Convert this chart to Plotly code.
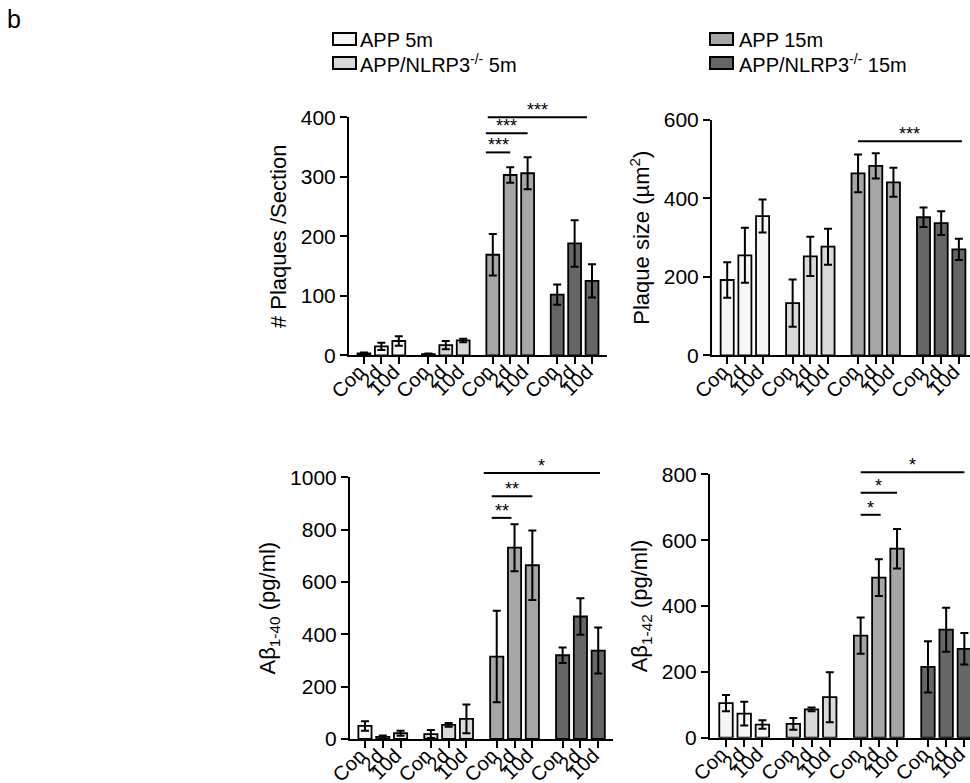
import plotly.graph_objects as go

# ---------------- data ----------------
categories = ["Con", "2d", "10d"]
series_names = ["APP 5m", "APP/NLRP3<sup>-/-</sup> 5m", "APP 15m", "APP/NLRP3<sup>-/-</sup> 15m"]
series_colors = ["#f6f6f6", "#d9d9d9", "#a6a6a6", "#666666"]

# values ordered: APP 5m (Con,2d,10d), NLRP3 5m, APP 15m, NLRP3 15m
plaques_mean = [3, 15, 24, 2, 17, 25, 169, 303, 306, 102, 188, 125]
plaques_err = [1.5, 6, 8, 1, 7, 3, 35, 13, 27, 17, 39, 28]

size_mean = [192, 255, 355, 133, 252, 277, 464, 483, 441, 352, 337, 270]
size_err = [45, 70, 42, 60, 50, 46, 48, 32, 37, 25, 30, 27]

ab40_mean = [50, 8, 22, 19, 54, 77, 315, 731, 664, 320, 468, 338]
ab40_err = [18, 5, 10, 15, 7, 55, 175, 90, 133, 30, 70, 88]

ab42_mean = [105, 73, 40, 42, 86, 123, 310, 486, 574, 215, 328, 270]
ab42_err = [25, 36, 13, 18, 6, 76, 55, 56, 60, 78, 67, 48]

# significance comparisons (bar indices into the 12 bars, height, label)
plaques_sig_from = [6, 6, 6]
plaques_sig_to = [11, 8, 7]
plaques_sig_y = [400, 373, 341]
plaques_sig_label = ["***", "***", "***"]

size_sig_from = [6]
size_sig_to = [11]
size_sig_y = [546]
size_sig_label = ["***"]

ab40_sig_from = [6, 6, 6]
ab40_sig_to = [11, 8, 7]
ab40_sig_y = [1016, 928, 845]
ab40_sig_label = ["*", "**", "**"]

ab42_sig_from = [6, 6, 6]
ab42_sig_to = [11, 8, 7]
ab42_sig_y = [806, 744, 677]
ab42_sig_label = ["*", "*", "*"]

y_titles = ["# Plaques /Section", "Plaque size (µm<sup>2</sup>)",
            "Aβ<sub>1-40</sub> (pg/ml)", "Aβ<sub>1-42</sub> (pg/ml)"]
y_tops = [400, 600, 1000, 800]
y_steps = [100, 200, 200, 200]

# ---------------- layout config ----------------
W, H = 970, 783
GROUP_STEP = 3.7
BAR_W = 0.74
FONT = "Arial, 'Liberation Sans', Helvetica, sans-serif"

# panel pixel boxes: (x_left, x_right), (y_top_px, y_bottom_px), x-range
panels = [
    dict(px=(349, 607), py=(117.3, 355.3), xr=(-0.86, 13.96)),
    dict(px=(712, 970), py=(120.0, 355.3), xr=(-0.86, 13.73)),
    dict(px=(350, 613), py=(477.3, 739.0), xr=(-0.84, 13.93)),
    dict(px=(710, 970), py=(474.3, 737.7), xr=(-0.88, 13.41)),
]
# line end offsets (in bar units) per comparison
sig_offsets = [
    [(-0.29, -0.29), (-0.4, 0.0), (-0.4, 0.0)],
    [(0.0, 0.17)],
    [(-0.73, 0.1), (-0.28, 0.0), (-0.28, -0.17)],
    [(0.0, 0.0), (0.0, 0.0), (0.0, 0.1)],
]
# legend placement (pixels): swatch left, text left, row centres
legend_pos = [
    dict(sx=333, tx=359, cy=39),
    dict(sx=333, tx=359, cy=63),
    dict(sx=710, tx=738, cy=39),
    dict(sx=710, tx=738, cy=63),
]
SW_W, SW_H = 23, 12

means = [plaques_mean, size_mean, ab40_mean, ab42_mean]
errs = [plaques_err, size_err, ab40_err, ab42_err]
sigs = [
    (plaques_sig_from, plaques_sig_to, plaques_sig_y, plaques_sig_label),
    (size_sig_from, size_sig_to, size_sig_y, size_sig_label),
    (ab40_sig_from, ab40_sig_to, ab40_sig_y, ab40_sig_label),
    (ab42_sig_from, ab42_sig_to, ab42_sig_y, ab42_sig_label),
]

positions = [g * GROUP_STEP + i for g in range(4) for i in range(3)]
ticktext = categories * 4

fig = go.Figure()
layout = dict(
    template="none",
    width=W, height=H, autosize=False,
    margin=dict(l=0, r=0, t=0, b=0, pad=0, autoexpand=False),
    paper_bgcolor="white", plot_bgcolor="white",
    barmode="overlay", showlegend=False,
    font=dict(family=FONT, color="black", size=20),
    shapes=[], annotations=[],
)

for p, panel in enumerate(panels):
    n = "" if p == 0 else str(p + 1)
    xa, ya = "x" + n, "y" + n
    for s in range(4):
        idx = slice(s * 3, s * 3 + 3)
        fig.add_trace(go.Bar(
            x=positions[idx], y=means[p][idx],
            width=BAR_W,
            marker=dict(color=series_colors[s], line=dict(color="black", width=1.8)),
            error_y=dict(type="data", array=errs[p][idx], visible=True,
                         color="black", thickness=2, width=4),
            name=series_names[s],
            xaxis=xa, yaxis=ya,
        ))
    x0px, x1px = panel["px"]
    ytop_px, ybot_px = panel["py"]
    layout["xaxis" + n] = dict(
        domain=[x0px / W, x1px / W], range=list(panel["xr"]), anchor=ya,
        automargin=False,
        showline=True, linecolor="black", linewidth=2,
        ticks="outside", ticklen=7, tickwidth=2, tickcolor="black",
        tickvals=positions, ticktext=ticktext, tickangle=-45,
        ticklabelstandoff=-12, ticklabelshift=-5,
        tickfont=dict(size=20), showgrid=False, zeroline=False,
    )
    layout["yaxis" + n] = dict(
        domain=[1 - ybot_px / H, 1 - ytop_px / H], range=[0, y_tops[p]], anchor=xa,
        automargin=False,
        showline=True, linecolor="black", linewidth=2,
        ticks="outside", ticklen=7, tickwidth=2, tickcolor="black",
        tickvals=list(range(0, y_tops[p] + 1, y_steps[p])),
        tickfont=dict(size=21), showgrid=False, zeroline=False,
        title=dict(text=y_titles[p], font=dict(size=22), standoff=8),
    )
    # significance bars
    r0, r1 = panel["xr"]
    sf, st, sy, sl = sigs[p]
    for k in range(len(sf)):
        dx0, dx1 = sig_offsets[p][k]
        xa0 = (positions[sf[k]] + dx0 - r0) / (r1 - r0)
        xa1 = (positions[st[k]] + dx1 - r0) / (r1 - r0)
        yy = sy[k] / y_tops[p]
        layout["shapes"].append(dict(
            type="line", xref=xa + " domain", yref=ya + " domain",
            x0=xa0, x1=xa1, y0=yy, y1=yy,
            line=dict(color="black", width=2),
        ))
        layout["annotations"].append(dict(
            text=sl[k], xref=xa + " domain", yref=ya + " domain",
            x=(xa0 + xa1) / 2, y=yy, xanchor="center", yanchor="bottom",
            yshift=-5, showarrow=False, font=dict(size=18),
        ))

# legend (two columns, drawn as swatches + labels)
for s in range(4):
    lp = legend_pos[s]
    layout["shapes"].append(dict(
        type="rect", xref="paper", yref="paper",
        x0=lp["sx"] / W, x1=(lp["sx"] + SW_W) / W,
        y0=1 - (lp["cy"] + SW_H / 2) / H, y1=1 - (lp["cy"] - SW_H / 2) / H,
        fillcolor=series_colors[s], line=dict(color="black", width=2),
    ))
    layout["annotations"].append(dict(
        text=series_names[s], xref="paper", yref="paper",
        x=lp["tx"] / W, y=1 - (lp["cy"] + 1) / H, xanchor="left", yanchor="middle",
        showarrow=False, font=dict(size=20), borderpad=0,
    ))

layout["annotations"].append(dict(
    text="b", xref="paper", yref="paper", x=6 / W, y=1 - 4 / H,
    xanchor="left", yanchor="top", showarrow=False, font=dict(size=25), borderpad=0,
))

fig.update_layout(**layout)
fig.write_html(
    "out.html",
    config={"displayModeBar": False},
    post_script="document.body.style.margin='0';document.body.style.overflow='hidden';",
)
